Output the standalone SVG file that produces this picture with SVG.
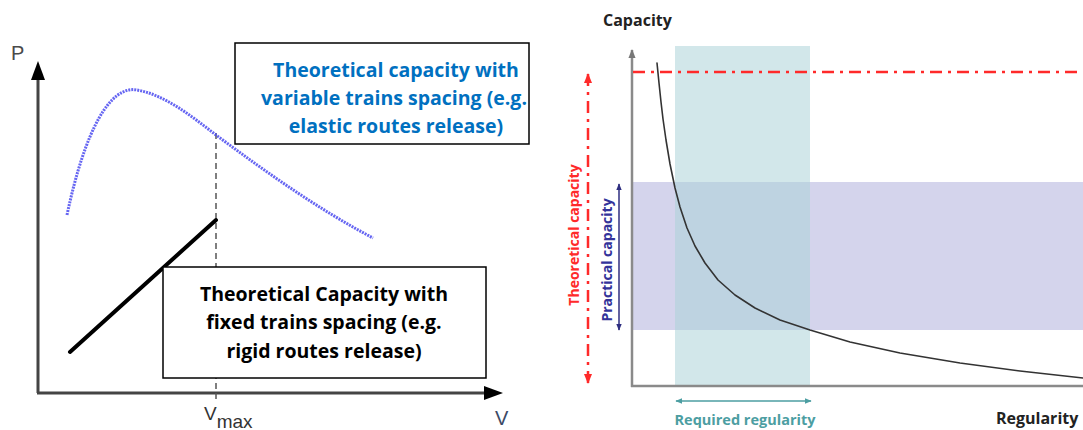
<svg xmlns="http://www.w3.org/2000/svg" width="1083" height="430" viewBox="0 0 1083 430">
<style>
.lbl{font-family:"Open Sans",Lato,sans-serif;font-weight:bold;}
.box{fill:#fff;stroke:#000;stroke-width:1.5;}
.ax{stroke:#444;stroke-width:3;fill:none;}
.rax{stroke:#8a8a8a;stroke-width:2.5;fill:none;}
</style>
<defs>
<marker id="ahg" viewBox="0 0 10 10" refX="9" refY="5" markerWidth="9" markerHeight="9" orient="auto-start-reverse" markerUnits="userSpaceOnUse"><path d="M0,1 L10,5 L0,9 z" fill="#777"/></marker>
<marker id="ahr" viewBox="0 0 10 10" refX="9" refY="5" markerWidth="10" markerHeight="10" orient="auto-start-reverse" markerUnits="userSpaceOnUse"><path d="M0,1 L10,5 L0,9 z" fill="#ff2a2a"/></marker>
<marker id="ahp" viewBox="0 0 10 10" refX="9" refY="5" markerWidth="7" markerHeight="7" orient="auto-start-reverse" markerUnits="userSpaceOnUse"><path d="M0,1 L10,5 L0,9 z" fill="#2e2e80"/></marker>
<marker id="aht" viewBox="0 0 10 10" refX="9" refY="5" markerWidth="7" markerHeight="7" orient="auto-start-reverse" markerUnits="userSpaceOnUse"><path d="M0,1 L10,5 L0,9 z" fill="#4c9ea2"/></marker>
</defs>

<g id="left-chart">
  <g id="left-axes">
    <line class="ax" x1="38" y1="393" x2="38" y2="78"/>
    <path d="M31,80 L38,61 L45,80 z" fill="#000"/>
    <line class="ax" x1="37" y1="393" x2="486" y2="393"/>
    <path d="M484,386 L503,393 L484,400 z" fill="#000"/>
    <text x="11" y="60" font-family="Liberation Sans,Arial,sans-serif" font-size="20" fill="#4a4a4a">P</text>
    <text x="495" y="425" font-family="Liberation Sans,Arial,sans-serif" font-size="20" fill="#3d4a66">V</text>
    <text x="204" y="420" font-family="Liberation Sans,Arial,sans-serif" font-size="19" fill="#333">V<tspan font-size="19" dy="8">max</tspan></text>
  </g>
  <g id="connectors">
    <line x1="216" y1="133" x2="216" y2="402" stroke="#555" stroke-width="1.5" stroke-dasharray="6,4"/>
    <path d="M67,215 C 85,130 110,85 137,90 C 165,95 190,115 216,135 C 270,175 320,210 373,238" fill="none" stroke="#4b4bf0" stroke-width="3" stroke-dasharray="2,1" stroke-opacity="0.85"/>
    <line x1="70" y1="352" x2="216" y2="220" stroke="#000" stroke-width="4" stroke-linecap="round"/>
  </g>
  <g id="box-variable">
    <rect class="box" x="235" y="43" width="294" height="101"/>
    <text class="lbl" font-size="19.5" fill="#0070c0" text-anchor="middle"><tspan x="396" y="77">Theoretical capacity with</tspan><tspan x="394" y="105">variable trains spacing (e.g.</tspan><tspan x="396" y="133">elastic routes release)</tspan></text>
  </g>
  <g id="box-fixed">
    <rect class="box" x="163" y="267" width="323" height="111"/>
    <text class="lbl" font-size="19.5" fill="#000" text-anchor="middle"><tspan x="324" y="301">Theoretical Capacity with</tspan><tspan x="324" y="329">fixed trains spacing (e.g.</tspan><tspan x="324" y="358">rigid routes release)</tspan></text>
  </g>
</g>

<g id="right-chart">
  <g id="bands">
    <rect x="675" y="46" width="135" height="340" fill="#d2e7ea"/>
    <rect x="632" y="182" width="451" height="148" fill="#d4d4ec"/>
    <rect x="675" y="182" width="135" height="148" fill="#bed3e1"/>
  </g>
  <g id="right-axes">
    <line class="rax" x1="632" y1="387" x2="632" y2="50" marker-end="url(#ahg)"/>
    <line class="rax" x1="631" y1="386" x2="1083" y2="386"/>
    <text class="lbl" x="603" y="26" font-size="16" fill="#222">Capacity</text>
    <text class="lbl" x="996" y="424" font-size="16" fill="#222">Regularity</text>
  </g>
  <g id="right-connectors">
    <line x1="633" y1="72" x2="1083" y2="72" stroke="#ff2a2a" stroke-width="2.5" stroke-dasharray="12,6,3,6"/>
    <polyline points="657,63 659,83 661,102 663,119 666,140 670,164 675,188 680,207 687,228 695,246 705,263 718,280 735,295 755,308 780,320 810,330 850,342 900,353 960,363 1020,371 1083,378" fill="none" stroke="#333" stroke-width="1.6" stroke-linejoin="round" stroke-linecap="round"/>
    <line x1="588" y1="74" x2="588" y2="383" stroke="#ff2a2a" stroke-width="2.5" stroke-dasharray="12,6,3,6" marker-start="url(#ahr)" marker-end="url(#ahr)"/>
    <line x1="619" y1="184" x2="619" y2="330" stroke="#2e2e80" stroke-width="1.5" marker-start="url(#ahp)" marker-end="url(#ahp)"/>
    <line x1="676" y1="401" x2="811" y2="401" stroke="#4c9ea2" stroke-width="1.5" marker-start="url(#aht)" marker-end="url(#aht)"/>
  </g>
  <text class="lbl" font-size="14" fill="#ff2a2a" text-anchor="middle" transform="translate(579,235) rotate(-90)">Theoretical capacity</text>
  <text class="lbl" font-size="14" fill="#33339a" text-anchor="middle" transform="translate(612,260) rotate(-90)">Practical capacity</text>
  <text class="lbl" x="745" y="425" font-size="14.5" fill="#4c9ea2" text-anchor="middle">Required regularity</text>
</g>
</svg>
